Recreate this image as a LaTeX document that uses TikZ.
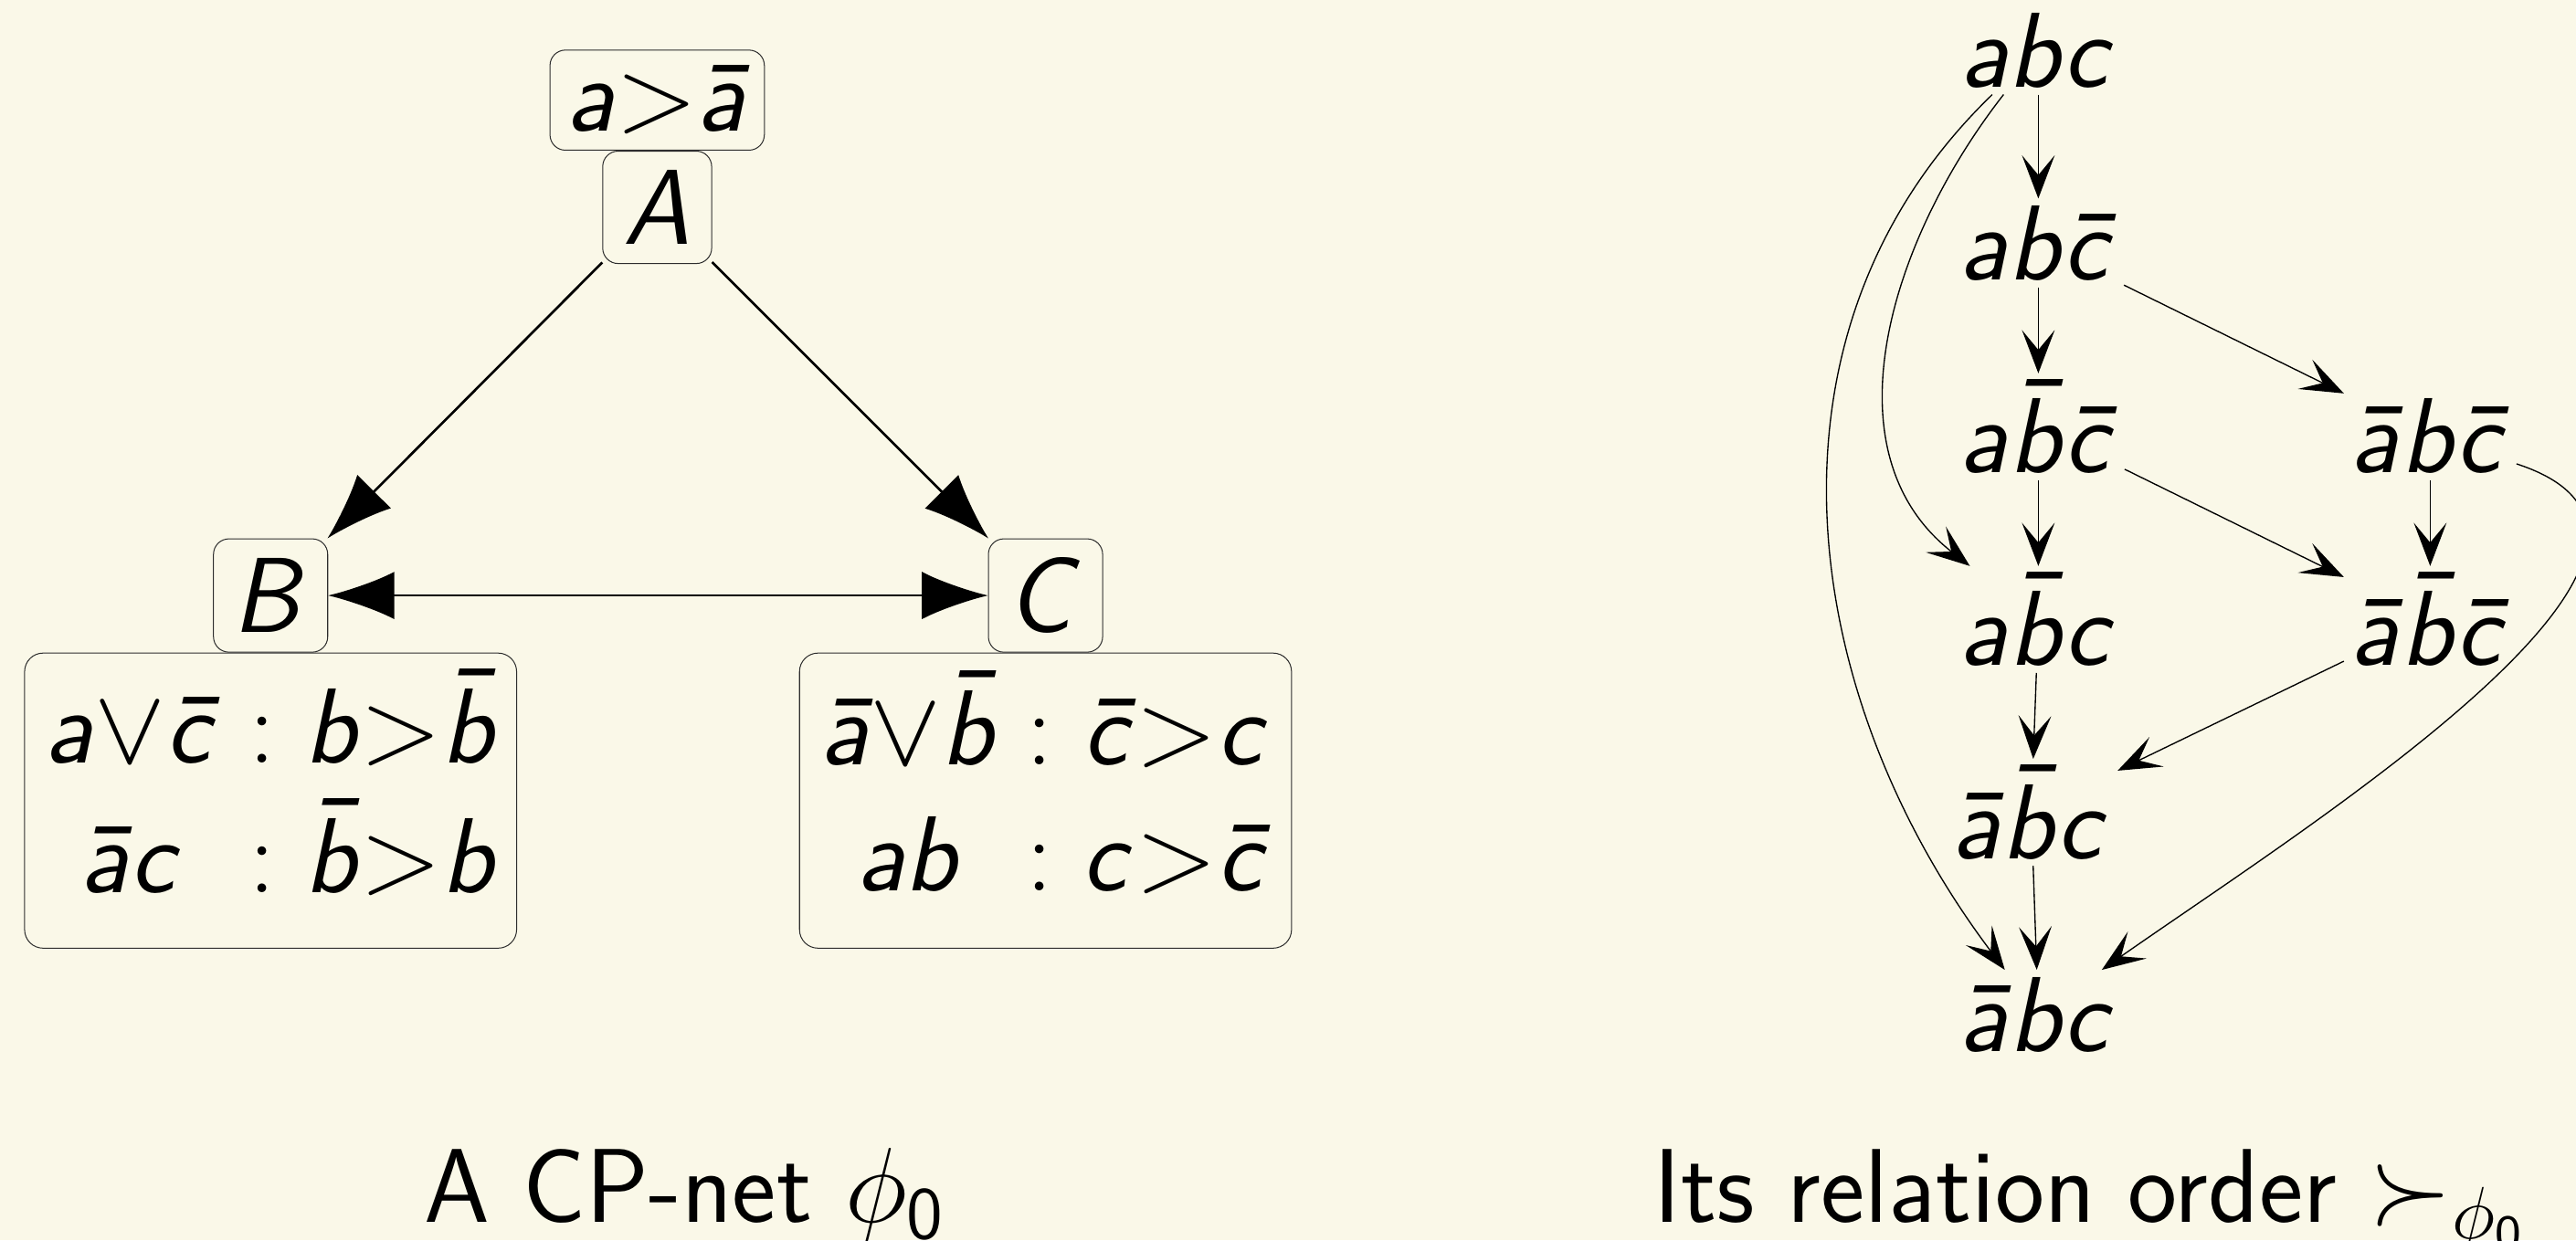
\documentclass[tikz,border=0pt]{standalone}
\usepackage{tikz}
\usetikzlibrary{arrows.meta,positioning}
\definecolor{BeigeBg}{RGB}{250,248,232}
\definecolor{BoxLine}{RGB}{45,45,45}

% sans serif slanted letters in math, as on the slides
\DeclareSymbolFont{sfletters}{OT1}{cmss}{m}{sl}
\DeclareSymbolFont{sfdigits}{OT1}{cmss}{m}{n}
\DeclareMathSymbol{a}{\mathalpha}{sfletters}{`a}
\DeclareMathSymbol{b}{\mathalpha}{sfletters}{`b}
\DeclareMathSymbol{c}{\mathalpha}{sfletters}{`c}
\DeclareMathSymbol{A}{\mathalpha}{sfletters}{`A}
\DeclareMathSymbol{B}{\mathalpha}{sfletters}{`B}
\DeclareMathSymbol{C}{\mathalpha}{sfletters}{`C}
\DeclareMathSymbol{0}{\mathalpha}{sfdigits}{`0}
\DeclareMathAccent{\bar}{\mathalpha}{sfletters}{"16}

\tikzset{
  bigtip/.tip={Latex[length=10.7pt,width=7.7pt]},
  smalltip/.tip={Stealth[length=7pt,width=5.3pt,inset=3.2pt]},
  var/.style={draw=BoxLine,line width=0.15pt,rounded corners=2.5pt,
    minimum width=0.62cm,minimum height=0.64cm,inner sep=1pt},
  cpt/.style={draw=BoxLine,line width=0.15pt,rounded corners=3pt,
    minimum width=2.8cm,minimum height=1.68cm,inner sep=2pt},
  outcome/.style={anchor=base,inner sep=1pt},
  dep/.style={line width=0.4pt,-bigtip},
  better/.style={line width=0.2pt,-smalltip}
}

\begin{document}
\begin{tikzpicture}[font=\fontsize{17}{20.4}\selectfont\sffamily]
  \fill[BeigeBg] (0,0) rectangle (14.66,7.06);
  \useasboundingbox (0,0) rectangle (14.66,7.06);

  % the CP-net
  \node[var,minimum width=1.22cm,minimum height=0.57cm] (tabA) at (3.74,6.49) {$a{>}\bar{a}$};
  \node[var,below=0pt of tabA] (A) {$A$};
  \node[var,minimum width=0.65cm,minimum height=0.645cm] (B) at (1.54,3.67) {$B$};
  \node[var,minimum width=0.65cm,minimum height=0.645cm] (C) at (5.95,3.67) {$C$};
  \node[cpt,below=0pt of B] (tabB)
    {$\begin{array}{@{}c@{\;:\;}c@{}} a{\vee}\bar{c} & b{>}\bar{b}\\ \bar{a}c & \bar{b}{>}b \end{array}$};
  \node[cpt,below=0pt of C] (tabC)
    {$\begin{array}{@{}c@{\;:\;}c@{}} \bar{a}{\vee}\bar{b} & \bar{c}{>}c\\ ab & c{>}\bar{c} \end{array}$};
  \draw[dep] (A) -- (B);
  \draw[dep] (A) -- (C);
  \draw[line width=0.4pt,bigtip-bigtip] (B) -- (C);

  % its order
  \node[outcome] (abc) at (11.60,6.564) {$abc$};
  \node[outcome] (abC) at (11.60,5.466) {$ab\bar{c}$};
  \node[outcome] (aBC) at (11.60,4.368) {$a\bar{b}\bar{c}$};
  \node[outcome] (AbC) at (13.83,4.368) {$\bar{a}b\bar{c}$};
  \node[outcome] (aBc) at (11.60,3.271) {$a\bar{b}c$};
  \node[outcome] (ABC) at (13.83,3.271) {$\bar{a}\bar{b}\bar{c}$};
  \node[outcome] (ABc) at (11.56,2.173) {$\bar{a}\bar{b}c$};
  \node[outcome] (Abc) at (11.60,1.075) {$\bar{a}bc$};
  \draw[better] (abc) -- (abC);
  \draw[better] (abC) -- (aBC);
  \draw[better] (abC) -- (AbC);
  \draw[better] (aBC) -- (aBc);
  \draw[better] (aBC) -- (ABC);
  \draw[better] (AbC) -- (ABC);
  \draw[better] (aBc) -- (ABc);
  \draw[better] (ABC) -- (ABc);
  \draw[better] (ABc) -- (Abc);
  \draw[better] (abc) to[out=-128,in=142] (aBc);
  \draw[better] (abc) to[out=-136,in=127] (Abc);
  \draw[better] (AbC) to[out=-18,in=35] (Abc);

  \node[anchor=base] (capnet) at (3.90,0.10) {A CP-net $\phi_0$};
  \node[anchor=base] (caporder) at (11.90,0.10) {Its relation order $\succ_{\phi_0}$};
\end{tikzpicture}
\end{document}
